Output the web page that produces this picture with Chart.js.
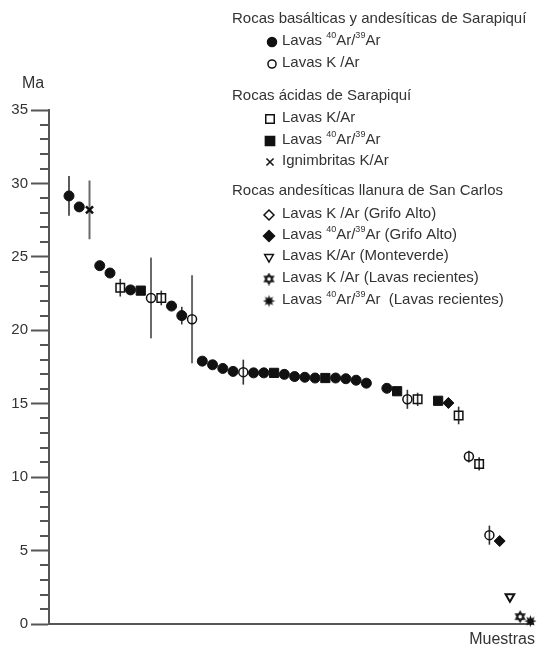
<!DOCTYPE html>
<html>
<head>
<meta charset="utf-8">
<script src="https://cdn.jsdelivr.net/npm/chart.js@4/dist/chart.umd.min.js"></script>
<style>
  html, body { margin: 0; padding: 0; background: #fff; }
  #chart { display: block; }
</style>
</head>
<body>
<canvas id="chart" width="541" height="651"></canvas>
<script>
// Edad (Ma) por muestra. x = numero de muestra, y = edad, e = error (+/-)

// Rocas basalticas y andesiticas de Sarapiqui - Lavas 40Ar/39Ar
const basArArX = [1, 2, 4, 5, 7, 11, 12, 14, 15, 16, 17, 19, 20, 22, 23, 24, 25, 27, 28, 29, 30, 32];
const basArArY = [29.15, 28.4, 24.4, 23.9, 22.75, 21.65, 21.0, 17.9, 17.65, 17.4, 17.2, 17.1, 17.1, 17.0, 16.85, 16.8, 16.75, 16.75, 16.7, 16.6, 16.4, 16.05];
const basArArE = [1.35, 0.3, 0, 0, 0, 0, 0.6, 0, 0, 0, 0, 0, 0, 0, 0, 0, 0, 0, 0, 0, 0, 0];

// Rocas basalticas y andesiticas de Sarapiqui - Lavas K/Ar
const basKArX = [9, 13, 18, 34, 40, 42];
const basKArY = [22.2, 20.75, 17.15, 15.3, 11.4, 6.05];
const basKArE = [2.75, 3.0, 0.85, 0.65, 0.4, 0.65];

// Rocas acidas de Sarapiqui - Lavas K/Ar
const acKArX = [6, 10, 35, 39, 41];
const acKArY = [22.9, 22.2, 15.3, 14.2, 10.9];
const acKArE = [0.6, 0.5, 0.45, 0.6, 0.45];

// Rocas acidas de Sarapiqui - Lavas 40Ar/39Ar
const acArArX = [8, 21, 26, 33, 37];
const acArArY = [22.7, 17.1, 16.75, 15.85, 15.2];
const acArArE = [0, 0, 0, 0, 0];

// Rocas acidas de Sarapiqui - Ignimbritas K/Ar
const ignX = [3];
const ignY = [28.2];
const ignE = [2.0];

// Llanura de San Carlos
const grifoKArX = [];
const grifoKArY = [];
const grifoKArE = [];
const grifoArArX = [38, 43];
const grifoArArY = [15.05, 5.65];
const grifoArArE = [0.35, 0];
const monteX = [44];
const monteY = [1.85];
const monteE = [0];
const recKArX = [45];
const recKArY = [0.5];
const recKArE = [0];
const recArArX = [46];
const recArArY = [0.2];
const recArArE = [0];

const yTicks = [0, 5, 10, 15, 20, 25, 30, 35];

const INK = '#111';
const TEXT = '#333';
const AXIS = '#555';
const FONT = '"Liberation Sans", Arial, sans-serif';

// custom star markers
function starCanvas(filled) {
    const c = document.createElement('canvas');
    c.width = 13; c.height = 13;
    const g = c.getContext('2d');
    g.translate(6.5, 6.5);
    g.strokeStyle = INK;
    g.fillStyle = INK;
    if (filled) {
        g.beginPath();
        for (let i = 0; i < 16; i++) {
            const r = i % 2 === 0 ? 6 : 3;
            const a = i * Math.PI / 8 - Math.PI / 2;
            g.lineTo(r * Math.cos(a), r * Math.sin(a));
        }
        g.closePath();
        g.fill();
    } else {
        g.lineWidth = 1.5;
        for (let t = 0; t < 2; t++) {
            g.beginPath();
            for (let i = 0; i < 3; i++) {
                const a = i * 2 * Math.PI / 3 + (t ? Math.PI / 2 : -Math.PI / 2);
                g.lineTo(5 * Math.cos(a), 5 * Math.sin(a));
            }
            g.closePath();
            g.stroke();
        }
    }
    return c;
}
const openStar = starCanvas(false);
const fillStar = starCanvas(true);

function pts(xs, ys, es) {
    return xs.map((x, i) => ({ x: x, y: ys[i], e: es[i] }));
}

const series = [
    { data: pts(basArArX, basArArY, basArArE), pointStyle: 'circle', radius: 5, fill: true },
    { data: pts(basKArX, basKArY, basKArE), pointStyle: 'circle', radius: 4.5, fill: false },
    { data: pts(acKArX, acKArY, acKArE), pointStyle: 'rect', radius: 6, fill: false },
    { data: pts(acArArX, acArArY, acArArE), pointStyle: 'rect', radius: 6.5, fill: true },
    { data: pts(ignX, ignY, ignE), pointStyle: 'crossRot', radius: 5, fill: false },
    { data: pts(grifoKArX, grifoKArY, grifoKArE), pointStyle: 'rectRot', radius: 5, fill: false },
    { data: pts(grifoArArX, grifoArArY, grifoArArE), pointStyle: 'rectRot', radius: 5.5, fill: true },
    { data: pts(monteX, monteY, monteE), pointStyle: 'triangle', radius: 5, fill: false, rotation: 180 },
    { data: pts(recKArX, recKArY, recKArE), pointStyle: openStar, radius: 6, fill: false },
    { data: pts(recArArX, recArArY, recArArE), pointStyle: fillStar, radius: 6, fill: true }
];

const datasets = series.map(s => ({
    data: s.data,
    pointStyle: s.pointStyle,
    pointRadius: s.radius,
    pointRotation: s.rotation || 0,
    pointBackgroundColor: s.fill ? INK : 'rgba(0,0,0,0)',
    pointBorderColor: INK,
    pointBorderWidth: s.pointStyle === 'crossRot' ? 2.5 : (s.pointStyle === 'triangle' ? 2 : (s.fill ? 1 : 1.5)),
    showLine: false,
    clip: false
}));

// error bars, drawn under the markers
const errorBars = {
    id: 'errorBars',
    beforeDatasetsDraw(chart) {
        const ctx = chart.ctx;
        const y = chart.scales.y;
        ctx.save();
        ctx.lineCap = 'butt';
        chart.data.datasets.forEach((ds, di) => {
            const meta = chart.getDatasetMeta(di);
            ds.data.forEach((p, i) => {
                if (!p.e) return;
                const el = meta.data[i];
                ctx.strokeStyle = p.e > 1.5 ? '#6a6a6a' : '#333';
                ctx.lineWidth = p.e > 1.5 ? 2 : 1.6;
                ctx.beginPath();
                ctx.moveTo(el.x, y.getPixelForValue(p.y + p.e));
                ctx.lineTo(el.x, y.getPixelForValue(p.y - p.e));
                ctx.stroke();
            });
        });
        ctx.restore();
    }
};

// minor ticks on the age axis
const minorTicks = {
    id: 'minorTicks',
    afterDraw(chart) {
        const ctx = chart.ctx;
        const y = chart.scales.y;
        const left = chart.chartArea.left;
        ctx.save();
        ctx.strokeStyle = AXIS;
        ctx.lineWidth = 2;
        for (let v = 0; v <= 35; v++) {
            if (v % 5 === 0) continue;
            const py = Math.round(y.getPixelForValue(v));
            ctx.beginPath();
            ctx.moveTo(left - 9, py);
            ctx.lineTo(left, py);
            ctx.stroke();
        }
        ctx.restore();
    }
};

function drawMarker(ctx, s, x, y) {
    ctx.save();
    if (s.pointStyle instanceof HTMLCanvasElement) {
        ctx.drawImage(s.pointStyle, x - s.pointStyle.width / 2, y - s.pointStyle.height / 2);
        ctx.restore();
        return;
    }
    Chart.helpers.drawPoint(ctx, {
        pointStyle: s.pointStyle,
        radius: s.pointStyle === 'circle' ? s.radius * 0.9 : s.radius,
        rotation: s.rotation || 0,
        borderWidth: s.pointStyle === 'crossRot' ? 2.5 : 1.5
    }, x, y);
    ctx.restore();
}

// text with superscript isotopes
function richText(ctx, parts, x, y) {
    let cx = x;
    parts.forEach(p => {
        ctx.font = (p.sup ? '9px ' : '15px ') + FONT;
        ctx.fillText(p.t, cx, p.sup ? y - 5 : y);
        cx += ctx.measureText(p.t).width;
    });
}

const ARAR = [{ t: 'Lavas ' }, { t: '40', sup: true }, { t: 'Ar/' }, { t: '39', sup: true }, { t: 'Ar' }];

const legendRows = [
    { head: 'Rocas basálticas y andesíticas de Sarapiquí', y: 19 },
    { s: 0, text: ARAR, y: 41, mx: 272 },
    { s: 1, text: [{ t: 'Lavas K /Ar' }], y: 63, mx: 272 },
    { head: 'Rocas ácidas de Sarapiquí', y: 96 },
    { s: 2, text: [{ t: 'Lavas K/Ar' }], y: 118, mx: 270 },
    { s: 3, text: ARAR, y: 140, mx: 270 },
    { s: 4, text: [{ t: 'Ignimbritas K/Ar' }], y: 161, mx: 270 },
    { head: 'Rocas andesíticas llanura de San Carlos', y: 191 },
    { s: 5, text: [{ t: 'Lavas K /Ar (Grifo Alto)' }], y: 214, mx: 269 },
    { s: 6, text: ARAR.concat([{ t: ' (Grifo Alto)' }]), y: 235, mx: 269 },
    { s: 7, text: [{ t: 'Lavas K/Ar (Monteverde)' }], y: 256, mx: 269 },
    { s: 8, text: [{ t: 'Lavas K /Ar (Lavas recientes)' }], y: 278, mx: 269 },
    { s: 9, text: ARAR.concat([{ t: '  (Lavas recientes)' }]), y: 300, mx: 269 }
];

const labels = {
    id: 'labels',
    afterDraw(chart) {
        const ctx = chart.ctx;
        ctx.save();
        ctx.fillStyle = TEXT;
        ctx.textBaseline = 'middle';
        ctx.textAlign = 'left';
        ctx.font = '16px ' + FONT;
        ctx.fillText('Ma', 22, 84);
        ctx.textAlign = 'right';
        ctx.fillText('Muestras', 535, 640);
        ctx.textAlign = 'left';
        legendRows.forEach(r => {
            if (r.head) {
                ctx.fillStyle = TEXT;
                ctx.font = '15px ' + FONT;
                ctx.fillText(r.head, 232, r.y);
                return;
            }
            const s = series[r.s];
            ctx.fillStyle = s.fill ? INK : 'rgba(0,0,0,0)';
            ctx.strokeStyle = INK;
            ctx.lineWidth = 1.5;
            drawMarker(ctx, s, r.mx, r.y + 1);
            ctx.fillStyle = TEXT;
            richText(ctx, r.text, 282, r.y);
        });
        ctx.restore();
    }
};

new Chart(document.getElementById('chart'), {
    type: 'scatter',
    data: { datasets: datasets },
    options: {
        responsive: false,
        animation: false,
        events: [],
        layout: { padding: { top: 110, right: 6, bottom: 27, left: 0 } },
        plugins: {
            legend: { display: false },
            tooltip: { enabled: false }
        },
        scales: {
            x: {
                type: 'linear',
                min: -0.95,
                max: 46.3,
                ticks: { display: false },
                grid: { display: true, drawOnChartArea: false, drawTicks: false },
                border: { display: true, color: AXIS, width: 2 },
                afterFit: s => { s.height = 0; }
            },
            y: {
                min: 0,
                max: 35,
                afterBuildTicks: s => { s.ticks = yTicks.map(v => ({ value: v })); },
                ticks: {
                    color: TEXT,
                    font: { family: FONT, size: 15 },
                    padding: 3
                },
                grid: { drawOnChartArea: false, tickLength: 18, tickColor: AXIS, tickWidth: 2 },
                border: { color: AXIS, width: 2 },
                afterFit: s => { s.width = 49; }
            }
        }
    },
    plugins: [errorBars, minorTicks, labels]
});
</script>
</body>
</html>
